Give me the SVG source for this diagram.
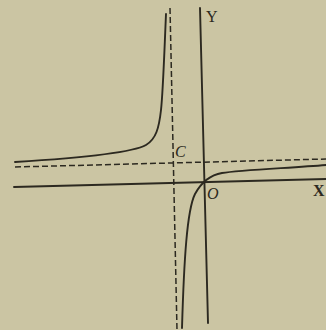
<svg xmlns="http://www.w3.org/2000/svg" width="326" height="330" viewBox="0 0 326 330">
<style>
.ln{fill:none;stroke:#2c2920;stroke-width:1.9;stroke-linecap:round}
.ds{fill:none;stroke:#2c2920;stroke-width:1.5;stroke-dasharray:6,3}
.lb{font-family:"Liberation Serif","DejaVu Serif",serif;font-size:16px;fill:#2c2920}
.it{font-style:italic}
</style>
<rect width="326" height="330" fill="#cbc5a3"/>
<g id="connectors">
<line id="x-axis" class="ln" x1="14" y1="187" x2="326" y2="179"/>
<line id="y-axis" class="ln" x1="200" y1="8" x2="208" y2="323"/>
<line id="asym-v" class="ds" x1="170" y1="8" x2="177" y2="330"/>
<line id="asym-h" class="ds" x1="15" y1="167" x2="326" y2="159"/>
<path id="branch-upper" class="ln" d="M166,14 C164,60 163,92 161,110 C159,128 156,139 146,145 C132,153 80,158 15,162"/>
<path id="branch-lower" class="ln" d="M326,165 C290,168 240,170 222,173 C210,175 201,183 195,194 C187,210 184,260 182,328"/>
</g>
<g id="label-Y"><text class="lb" x="206" y="22">Y</text></g>
<g id="label-X"><text class="lb" x="313" y="196" font-weight="bold">X</text></g>
<g id="label-C"><text class="lb it" x="175" y="157">C</text></g>
<g id="label-O"><text class="lb it" x="207" y="199">O</text></g>
</svg>
